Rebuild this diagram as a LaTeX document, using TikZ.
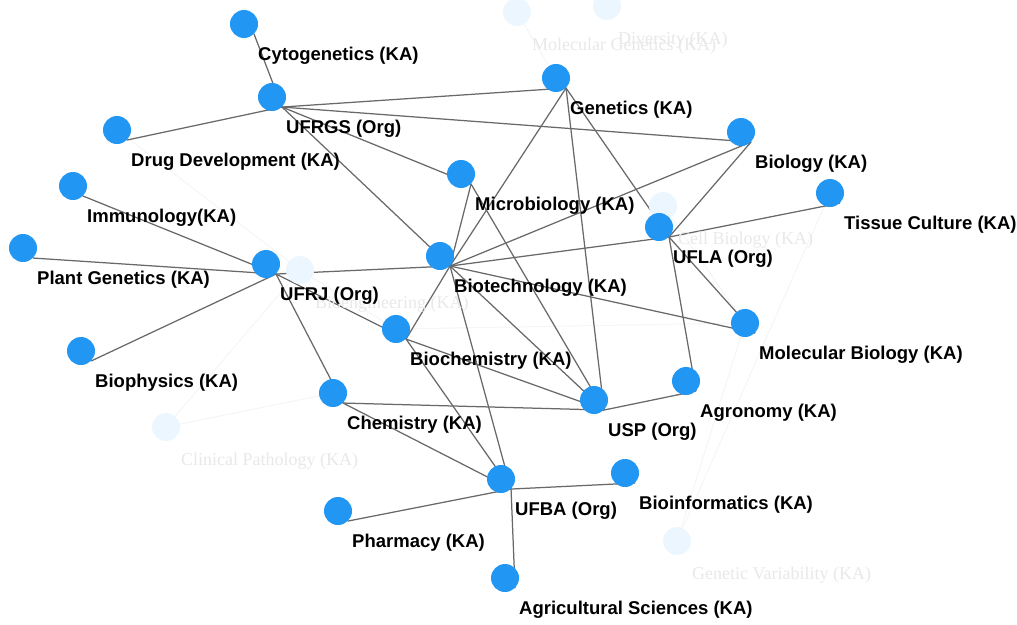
\documentclass[tikz,border=0pt]{standalone}
\usepackage{fontspec}
\setmainfont{Liberation Sans}
\newfontfamily\ghostfont{Liberation Serif}
\usetikzlibrary{calc,backgrounds}
\definecolor{nodeblue}{RGB}{33,150,243}
\definecolor{edgegray}{RGB}{105,105,105}
\newcommand\kn[4]{\node[dot] (#1) at (#2,#3) {};
  \node[lab] (#1-l) at ($(#1)+(14,32)$) {#4};}
\newcommand\gn[4]{\node[ghostdot] (#1) at (#2,#3) {};
  \node[ghostlab] (#1-l) at ($(#1)+(15,34)$) {#4};}
\begin{document}
\begin{tikzpicture}[x=1pt,y=-1pt,
 dot/.style={circle,fill=nodeblue,minimum size=28pt,inner sep=0pt},
 ghostdot/.style={circle,fill=nodeblue!9,minimum size=28pt,inner sep=0pt},
 lab/.style={anchor=west,inner sep=0pt,font=\fontsize{18.5}{20}\selectfont\bfseries},
 ghostlab/.style={anchor=west,inner sep=0pt,text=black!9,font=\ghostfont\fontsize{18}{20}\selectfont},
 edge/.style={draw=edgegray,line width=1.25pt},
 ghostedge/.style={draw=black!4,line width=1pt}]
\useasboundingbox (0,0) rectangle (1017,624);
% ghost (faded) elements
\gn{molgen}{517}{12}{Molecular Genetics (KA)}
\gn{div}{607}{6}{}
\node[ghostlab] (div-l2) at (618,40) {Diversity (KA)};
\gn{cellbio}{663}{206}{Cell Biology (KA)}
\gn{bioeng}{300}{270}{Bioengineering (KA)}
\gn{clin}{166}{427}{Clinical Pathology (KA)}
\gn{genvar}{677}{541}{Genetic Variability (KA)}
% main nodes
\kn{cyto}{244}{24}{Cytogenetics (KA)}
\kn{ufrgs}{272}{97}{UFRGS (Org)}
\kn{drug}{117}{130}{Drug Development (KA)}
\kn{imm}{73}{186}{Immunology(KA)}
\kn{plant}{23}{248}{Plant Genetics (KA)}
\kn{ufrj}{266}{264}{UFRJ (Org)}
\kn{biophys}{81}{351}{Biophysics (KA)}
\kn{gen}{556}{78}{Genetics (KA)}
\kn{biol}{741}{132}{Biology (KA)}
\kn{tissue}{830}{193}{Tissue Culture (KA)}
\kn{micro}{461}{174}{Microbiology (KA)}
\kn{ufla}{659}{227}{UFLA (Org)}
\kn{biotech}{440}{256}{Biotechnology (KA)}
\kn{biochem}{396}{329}{Biochemistry (KA)}
\kn{molbio}{745}{323}{Molecular Biology (KA)}
\kn{chem}{333}{393}{Chemistry (KA)}
\kn{usp}{594}{400}{USP (Org)}
\kn{agro}{686}{381}{Agronomy (KA)}
\kn{ufba}{501}{479}{UFBA (Org)}
\kn{bioinf}{625}{473}{Bioinformatics (KA)}
\kn{pharm}{338}{511}{Pharmacy (KA)}
\kn{agri}{505}{578}{Agricultural Sciences (KA)}
\begin{scope}[on background layer]
  \foreach \a/\b in {biochem/molbio,cellbio/molbio,genvar/molbio,clin/bioeng,bioeng/biochem,molgen/gen,tissue/genvar,clin/chem,drug/bioeng}
    \draw[ghostedge] (\a) -- (\b);
  \foreach \a/\b in {cyto/ufrgs,ufrgs/drug,ufrgs/gen,ufrgs/biol,ufrgs/micro,ufrgs/biotech,
    imm/ufrj,plant/ufrj,ufrj/biotech,ufrj/biophys,ufrj/chem,ufrj/biochem,
    gen/biotech,gen/usp,gen/ufla,biol/biotech,biol/ufla,tissue/ufla,
    micro/biotech,micro/usp,ufla/biotech,ufla/molbio,ufla/agro,
    biotech/molbio,biotech/biochem,biotech/usp,biotech/ufba,
    biochem/usp,biochem/ufba,chem/usp,chem/ufba,usp/agro,
    ufba/pharm,ufba/bioinf,ufba/agri}
    \draw[edge] (\a.south east) -- (\b.south east);
\end{scope}
\end{tikzpicture}
\end{document}
